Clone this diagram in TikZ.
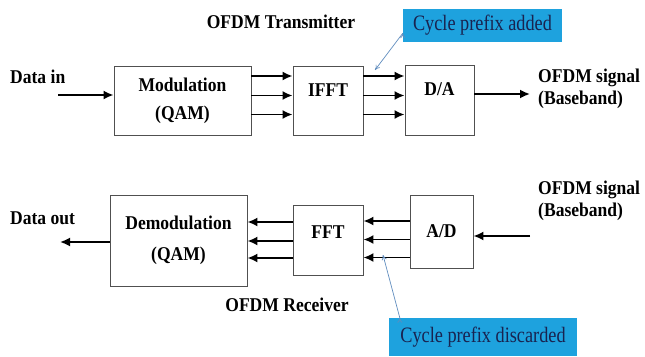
\documentclass[tikz,border=0pt]{standalone}
\usepackage{fontspec}
\setmainfont{Liberation Serif}[FakeStretch=0.9]
\newfontfamily\calloutfont{Liberation Serif}[FakeStretch=0.83]
\usetikzlibrary{arrows.meta}

\definecolor{calloutblue}{RGB}{30,162,222}
\definecolor{pointerblue}{RGB}{95,140,190}
\definecolor{boxgray}{RGB}{80,80,80}
\definecolor{callouttext}{RGB}{25,35,80}

\tikzset{
    block/.style={shape=rectangle,draw=boxgray,line width=0.9pt,align=center,
        font=\bfseries\fontsize{19.5}{28}\selectfont},
    lbl/.style={inner sep=0pt,align=left,font=\bfseries\fontsize{19.5}{22}\selectfont},
    callout/.style={shape=rectangle,fill=calloutblue,text=callouttext,inner sep=0pt,
        font=\calloutfont\fontsize{22}{24}\selectfont},
    sig/.style={-{Latex[length=10pt,width=9pt]},line width=1.8pt},
    pointer/.style={-{To[length=5pt,width=5pt]},draw=pointerblue,line width=0.7pt}
}

\begin{document}
\begin{tikzpicture}[x=1pt,y=-1pt]
    \useasboundingbox (0,0) rectangle (645,356);

    % transmitter
    \node[lbl] (ttitle) at (281,22) {OFDM Transmitter};
    \node[lbl,anchor=west] (din) at (10,77) {Data in};
    \node[block,minimum width=137pt,minimum height=69pt] (mod) at (182.5,100.5) {Modulation\\(QAM)};
    \node[block,minimum width=70pt,minimum height=69pt,text depth=21pt] (ifft) at (328,100.5) {IFFT};
    \node[block,minimum width=69pt,minimum height=70pt,text depth=21pt] (da) at (439.5,100) {D/A};
    \node[lbl,anchor=west] (sout) at (538,89) {OFDM signal\\(Baseband)};
    \node[callout,minimum width=159pt,minimum height=33pt] (cpa) at (482.5,25.5) {Cycle prefix added};

    \coordinate (dinend) at (58,95);
    \coordinate (soutend) at (530,94);
    \coordinate (cpatip) at (375,70);

    \path [sig] (dinend) edge ([yshift=5.5pt]mod.west);
    \path [sig] ([yshift=24.5pt]mod.east) edge ([yshift=24.5pt]ifft.west);
    \path [sig] ([yshift=5pt]mod.east) edge ([yshift=5pt]ifft.west);
    \path [sig] ([yshift=-14pt]mod.east) edge ([yshift=-14pt]ifft.west);
    \path [sig] ([yshift=24.5pt]ifft.east) edge ([yshift=24pt]da.west);
    \path [sig] ([yshift=5pt]ifft.east) edge ([yshift=4.5pt]da.west);
    \path [sig] ([yshift=-14pt]ifft.east) edge ([yshift=-14.5pt]da.west);
    \path [sig] ([yshift=6pt]da.east) edge (soutend);
    \path [pointer] ([yshift=9pt]cpa.south west) edge (cpatip);

    % receiver
    \node[lbl] (rtitle) at (287,305) {OFDM Receiver};
    \node[lbl,anchor=west] (dout) at (10,218) {Data out};
    \node[block,minimum width=137pt,minimum height=91pt,font=\bfseries\fontsize{19.5}{31}\selectfont] (demod) at (178.5,240.5) {Demodulation\\(QAM)};
    \node[block,minimum width=70pt,minimum height=70pt,text depth=16pt] (fft) at (328,240) {FFT};
    \node[block,minimum width=63pt,minimum height=73pt] (ad) at (441.5,231.5) {A/D};
    \node[lbl,anchor=west] (sin) at (538,201) {OFDM signal\\(Baseband)};
    \node[callout,minimum width=188pt,minimum height=38pt] (cpd) at (483,337) {Cycle prefix discarded};

    \coordinate (doutend) at (60,242);
    \coordinate (sinstart) at (530,236);
    \coordinate (cpdtip) at (383,255);

    \path [sig] (sinstart) edge ([yshift=-4.5pt]ad.east);
    \path [sig] ([yshift=10.5pt]ad.west) edge ([yshift=19pt]fft.east);
    \path [sig] ([yshift=-8pt]ad.west) edge ([yshift=0.5pt]fft.east);
    \path [sig] ([yshift=-26pt]ad.west) edge ([yshift=-17.5pt]fft.east);
    \path [sig] ([yshift=18pt]fft.west) edge ([yshift=18.5pt]demod.east);
    \path [sig] ([yshift=-1pt]fft.west) edge ([yshift=-0.5pt]demod.east);
    \path [sig] ([yshift=-18pt]fft.west) edge ([yshift=-17.5pt]demod.east);
    \path [sig] ([yshift=-1.5pt]demod.west) edge (doutend);
    \path [pointer] ([xshift=11pt]cpd.north west) edge (cpdtip);
\end{tikzpicture}
\end{document}
